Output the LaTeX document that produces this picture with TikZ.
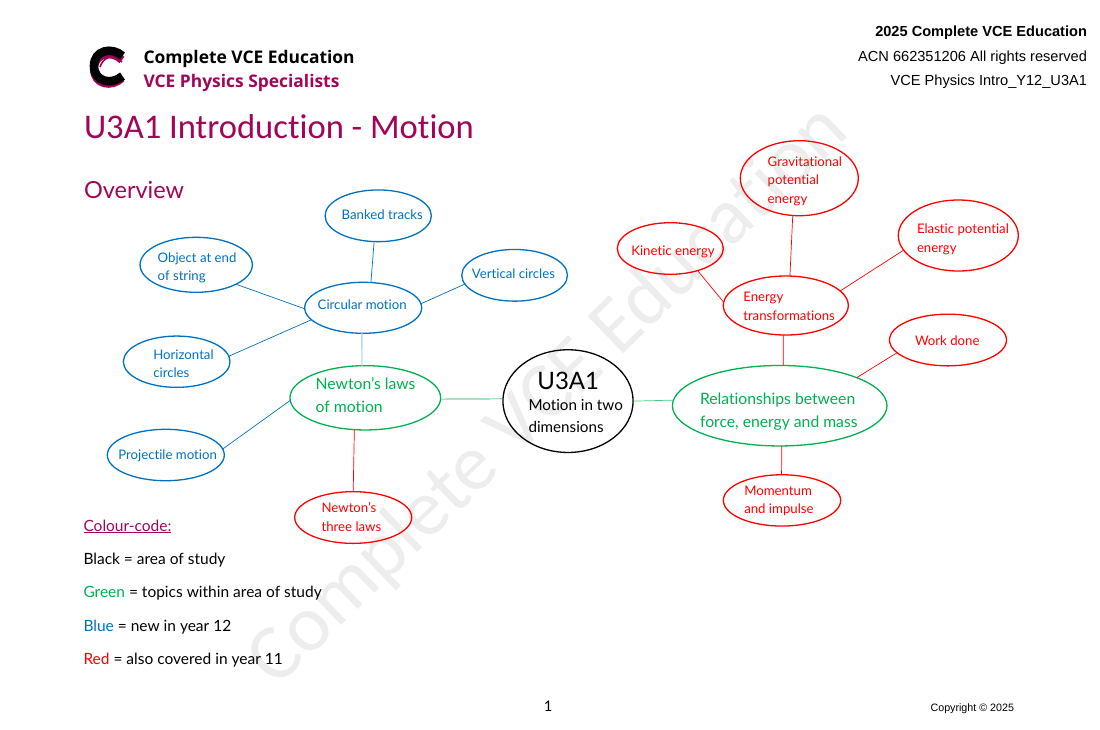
\documentclass[tikz,border=0pt]{standalone}
\usepackage{fontspec}
\setmainfont{Lato}[Ligatures={NoCommon}]
\newfontfamily\arialf{Liberation Sans}
\newfontfamily\titlef{Carlito}[Ligatures={NoCommon}]
\newfontfamily\logof{Open Sans}
\usetikzlibrary{shapes.geometric}
\definecolor{brand}{HTML}{A00558}
\definecolor{bluec}{HTML}{0070C0}
\definecolor{greenc}{HTML}{00B050}
\definecolor{redc}{HTML}{FF0000}
\definecolor{wm}{HTML}{EDEDED}
\definecolor{lightblue}{HTML}{BDD7EE}
\newcommand{\etext}[3]{\makebox[0pt][l]{\hspace*{#1pt}\raisebox{\dimexpr-#2pt-4pt\relax}[0pt][0pt]{\begin{tabular}[c]{@{}l@{}}#3\end{tabular}}}}
\tikzset{
  x=1pt,y=-1pt,
  oval/.style={ellipse,draw,line width=1.3pt,inner sep=0pt,outer sep=0pt,fill=none},
  blueoval/.style={oval,draw=bluec,text=bluec,font=\fontsize{13.2}{18.5}\selectfont},
  redoval/.style={oval,draw=redc,text=redc,font=\fontsize{13.2}{18.5}\selectfont},
  greenoval/.style={oval,draw=greenc,text=greenc,font=\fontsize{15.7}{22.8}\selectfont},
  link/.style={line width=0.7pt},
  plain/.style={inner sep=0pt,outer sep=0pt},
  legend/.style={plain,anchor=base west,font=\fontsize{15.5}{17}\selectfont},
  header/.style={plain,anchor=base east,font=\arialf\fontsize{14.6}{17}\selectfont},
}
\newcommand{\ov}[7]{\node[#1,minimum width=#5pt,minimum height=#6pt] (#2) at (#3,#4) {#7};}
\begin{document}
\begin{tikzpicture}
\useasboundingbox (0,0) rectangle (1100,729);
% watermark
\node[plain,rotate=44,text=wm,font=\titlef\fontsize{80}{90}\selectfont] (watermark) at (549,396) {Complete VCE Education};
% logo
\draw[line width=8pt,brand] (122,60) .. controls (112,50) and (94,53) .. (94,69) .. controls (94,85) and (112,88) .. (122,78);
\draw[line width=1.6pt,brand] (122,62) .. controls (114,53) and (103,57) .. (100,67);
\draw[line width=8.6pt,black] (122.5,56) .. controls (112,46.5) and (94,50) .. (94,66) .. controls (94,82) and (112,85.5) .. (122.5,76);
\node[plain,anchor=base west,font=\logof\bfseries\fontsize{17.4}{20}\selectfont] (logoa) at (143.5,63) {Complete VCE Education};
\node[plain,anchor=base west,text=brand,font=\logof\bfseries\fontsize{17.4}{20}\selectfont] (logob) at (143.5,87) {VCE Physics Specialists};
% header
\node[header,font=\arialf\bfseries\fontsize{14.6}{17}\selectfont] (h1) at (1087,36) {2025 Complete VCE Education};
\node[header] (h2) at (1087,61) {ACN 662351206 All rights reserved};
\node[header] (h3) at (1087,85) {VCE Physics Intro\_Y12\_U3A1};
% titles
\node[plain,anchor=base west,text=brand,font=\titlef\fontsize{34.6}{42}\selectfont] (title) at (84,138) {U3A1 Introduction - Motion};
\node[plain,anchor=base west,text=brand,font=\fontsize{23.5}{28}\selectfont] (overview) at (84,198) {Overview};
% ovals
\ov{blueoval}{banked}{378.2}{215.8}{106.3}{51.7}{\etext{-36.5}{-1}{Banked tracks}}
\ov{blueoval}{string}{196.2}{264.8}{112.3}{55}{\etext{-38.5}{2}{Object at end\\of string}}
\ov{blueoval}{vertical}{514.6}{275.3}{105.7}{51.7}{\etext{-42.7}{-1.3}{Vertical circles}}
\ov{blueoval}{circular}{363.2}{307.8}{117}{51}{\etext{-45.5}{-2.8}{Circular motion}}
\ov{blueoval}{horizontal}{176.7}{361.7}{106.7}{51.3}{\etext{-23.4}{2.2}{Horizontal\\circles}}
\ov{blueoval}{projectile}{165.8}{455}{117}{51.4}{\etext{-47.5}{0}{Projectile motion}}
\ov{greenoval}{newton}{365.3}{397.8}{150.7}{64.3}{\etext{-49.6}{-1.5}{Newton’s laws\\of motion}}
\ov{redoval}{three}{353.2}{517.5}{117}{51.7}{\etext{-31.6}{0}{Newton’s\\three laws}}
\node[oval,draw=black,text=black,minimum width=130.2pt,minimum height=102.7pt] (u3a1) at (568,401.1) {\makebox[0pt][l]{\hspace*{-30.6pt}\raisebox{12pt}[0pt][0pt]{\fontsize{24}{28}\selectfont U3A1}}\makebox[0pt][l]{\hspace*{-39.5pt}\raisebox{-19.4pt}[0pt][0pt]{\fontsize{15.2}{22.2}\selectfont\begin{tabular}[c]{@{}l@{}}Motion in two\\dimensions\end{tabular}}}};
\ov{greenoval}{relation}{779.7}{405.7}{214.6}{80.5}{\etext{-79.7}{5}{Relationships between\\force, energy and mass}}
\ov{redoval}{energy}{785.8}{305.5}{125}{59}{\etext{-42.5}{0.7}{Energy\\transformations}}
\ov{redoval}{kinetic}{670.3}{248.5}{106}{51.6}{\etext{-39}{2.2}{Kinetic energy}}
\ov{redoval}{grav}{799.3}{178.2}{118}{75}{\etext{-31.6}{2}{Gravitational\\potential\\energy}}
\ov{redoval}{elastic}{958.3}{235.5}{120}{71}{\etext{-41.3}{3}{Elastic potential\\energy}}
\ov{redoval}{work}{948}{340}{117}{51.7}{\etext{-33}{0.7}{Work done}}
\ov{redoval}{momentum}{782}{500.4}{117.3}{51.3}{\etext{-37.7}{-0.6}{Momentum\\and impulse}}
% connectors
\draw[link,bluec] (string.-26.5) -- (circular.181.5);
\draw[link,bluec] (banked.-99) -- (circular.73);
\draw[link,bluec] (vertical.190) -- (circular.4.7);
\draw[link,bluec] (horizontal.6) -- (circular.193);
\draw[line width=1.3pt,lightblue] (circular.-93.4) -- (newton.96);
\draw[link,bluec] (projectile.6.5) -- (newton.182);
\draw[link,redc] (newton.-109) -- (three.90.5);
\draw[link,greenc] (newton.-1.4) -- (u3a1.178);
\draw[link,greenc!70] (u3a1.0) -- (relation.177.8);
\draw[link,redc] (energy.-95) -- (relation.85);
\draw[link,redc] (relation.-87.3) -- (momentum.91);
\draw[link,redc] (relation.20.4) -- (work.194.5);
\draw[link,redc] (kinetic.-39.6) -- (energy.177);
\draw[link,redc] (grav.-100.6) -- (energy.82);
\draw[link,redc] (elastic.195.4) -- (energy.15.8);
% legend
\node[legend,text=brand] (l0) at (83.5,531) {\underline{Colour-code:}};
\node[legend] (l1) at (83.5,564) {Black = area of study};
\node[legend] (l2) at (83.5,597) {\textcolor{greenc}{Green} = topics within area of study};
\node[legend] (l3) at (83.5,631) {\textcolor{bluec}{Blue} = new in year 12};
\node[legend] (l4) at (83.5,664) {\textcolor{redc}{Red} = also covered in year 11};
% footer
\node[plain,font=\fontsize{14.6}{17}\selectfont] (page) at (548,706) {1};
\node[plain,anchor=base east,font=\arialf\fontsize{10.7}{12}\selectfont] (copy) at (1014,711) {Copyright © 2025};
\end{tikzpicture}
\end{document}
